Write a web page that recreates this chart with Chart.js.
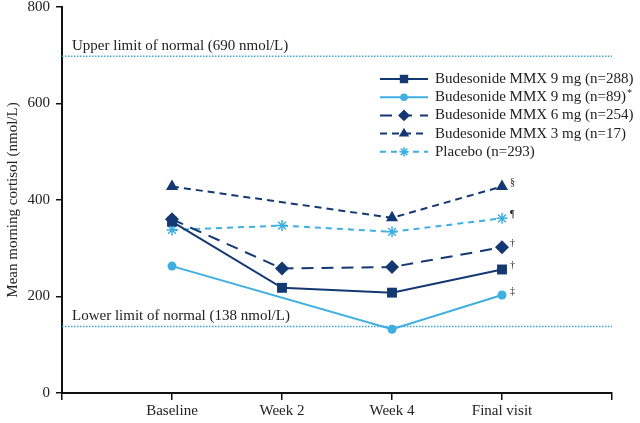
<!DOCTYPE html>
<html>
<head>
<meta charset="utf-8">
<script src="https://cdn.jsdelivr.net/npm/chart.js@4"></script>
<style>
  html, body { margin: 0; padding: 0; background: #fff; }
  #wrap { width: 640px; height: 423px; }
</style>
</head>
<body>
<div id="wrap"><canvas id="chart" width="640" height="423"></canvas></div>
<script>
// --- data ---
const visits = ["Baseline", "Week 2", "Week 4", "Final visit"];
const mmx9 = [355, 218, 208, 256];
const mmx9sub = [263, null, 132, 203];
const mmx6 = [360, 258, 261, 302];
const mmx3 = [428, null, 363, 428];
const placebo = [338, 347, 334, 362];
const finalMarks = ["†", "‡", "†", "§", "¶"];
const upperLimit = 698, lowerLimit = 138;
const upperLabel = "Upper limit of normal (690 nmol/L)";
const lowerLabel = "Lower limit of normal (138 nmol/L)";

const dark = "#143872", light = "#3eafe0", refColor = "#3aa9d6";
const serif = "'Liberation Serif', 'DejaVu Serif', serif";

const toPts = (arr) => arr.map((v, i) => ({ x: i + 1, y: v }));

const series = [
  { label: "Budesonide MMX 9 mg (n=288)", data: mmx9, color: dark, dash: [], style: "rect", r: 7 },
  { label: "Budesonide MMX 9 mg (n=89)*", data: mmx9sub, color: light, dash: [], style: "circle", r: 4.5 },
  { label: "Budesonide MMX 6 mg (n=254)", data: mmx6, color: dark, dash: [12, 8], style: "rectRot", r: 7 },
  { label: "Budesonide MMX 3 mg (n=17)", data: mmx3, color: dark, dash: [7, 5], style: "triangle", r: 7 },
  { label: "Placebo (n=293)", data: placebo, color: light, dash: [6, 5], style: "star", r: 5.5 },
];

const datasets = series.map((s) => ({
  label: s.label,
  data: toPts(s.data),
  borderColor: s.color,
  backgroundColor: s.color,
  borderWidth: 2,
  borderDash: s.dash,
  pointStyle: s.style,
  pointRadius: s.r,
  pointBorderWidth: s.style === "star" ? 1.5 : 0,
  pointBorderColor: s.color,
  pointBackgroundColor: s.color,
  spanGaps: true,
  tension: 0,
}));

// --- extras: reference lines, legend, footnote marks ---
const extras = {
  id: "extras",
  afterDatasetsDraw(chart) {
    const { ctx, chartArea, scales } = chart;
    const y = scales.y;
    ctx.save();
    // reference lines
    [[upperLimit, upperLabel], [lowerLimit, lowerLabel]].forEach(([v, txt]) => {
      const py = y.getPixelForValue(v);
      ctx.strokeStyle = refColor;
      ctx.lineWidth = 1.5;
      ctx.setLineDash([1.5, 1.5]);
      ctx.beginPath();
      ctx.moveTo(chartArea.left, py);
      ctx.lineTo(chartArea.right, py);
      ctx.stroke();
      ctx.setLineDash([]);
      ctx.fillStyle = "#222";
      ctx.font = "15px " + serif;
      ctx.textAlign = "left";
      ctx.textBaseline = "alphabetic";
      ctx.fillText(txt, 72, py - 6);
    });
    // footnote marks at final visit
    ctx.font = "10px " + serif;
    ctx.fillStyle = "#222";
    series.forEach((s, i) => {
      const p = chart.getDatasetMeta(i).data[3];
      ctx.fillText(finalMarks[i], p.x + 8, p.y - 1);
    });
    // legend
    const lx0 = 380, lx1 = 428, tx = 435;
    series.forEach((s, i) => {
      const ly = 79 + i * 18.2;
      ctx.strokeStyle = s.color;
      ctx.fillStyle = s.color;
      ctx.lineWidth = 2;
      ctx.setLineDash(s.dash);
      ctx.beginPath();
      ctx.moveTo(lx0, ly);
      ctx.lineTo(lx1, ly);
      ctx.stroke();
      ctx.setLineDash([]);
      ctx.lineWidth = 1.5;
      Chart.helpers.drawPoint(ctx, {
        pointStyle: s.style,
        radius: s.r * 0.85,
        rotation: 0,
        borderWidth: s.style === "star" ? 1.5 : 0,
      }, (lx0 + lx1) / 2, ly);
      ctx.fillStyle = "#222";
      ctx.font = "15px " + serif;
      ctx.textBaseline = "middle";
      ctx.fillText(s.label.replace("*", ""), tx, ly);
      if (s.label.endsWith("*")) {
        const w = ctx.measureText(s.label.replace("*", "")).width;
        ctx.font = "10px " + serif;
        ctx.fillText("*", tx + w + 1, ly - 4);
      }
    });
    ctx.restore();
  },
};

new Chart(document.getElementById("chart"), {
  type: "line",
  data: { datasets },
  options: {
    responsive: false,
    animation: false,
    layout: { padding: { top: 6, right: 28, left: 0, bottom: 0 } },
    plugins: { legend: { display: false }, tooltip: { enabled: false } },
    scales: {
      x: {
        type: "linear",
        min: 0,
        max: 5,
        afterFit: (s) => { s.height = 30; },
        afterBuildTicks: (s) => { s.ticks = [0, 1, 2, 3, 4, 5].map((v) => ({ value: v })); },
        ticks: {
          autoSkip: false,
          maxRotation: 0,
          padding: 2,
          color: "#222",
          font: { family: serif, size: 15 },
          callback: (v) => (v >= 1 && v <= 4 ? visits[v - 1] : ""),
        },
        grid: { drawOnChartArea: false, drawTicks: true, tickLength: 7, color: "#111", lineWidth: 1.5 },
        border: { display: true, color: "#111", width: 2 },
      },
      y: {
        min: 0,
        max: 800,
        afterFit: (s) => { s.width = 62; s.paddingTop = 0; s.paddingBottom = 0; },
        ticks: {
          stepSize: 200,
          padding: 6,
          color: "#222",
          font: { family: serif, size: 15 },
        },
        grid: { drawOnChartArea: false, drawTicks: true, tickLength: 6, color: "#111", lineWidth: 1.5 },
        border: { display: true, color: "#111", width: 2 },
        title: {
          display: true,
          text: "Mean morning cortisol (nmol/L)",
          color: "#222",
          font: { family: serif, size: 15 },
          padding: { top: 4, bottom: 0 },
        },
      },
    },
  },
  plugins: [extras],
});
</script>
</body>
</html>
